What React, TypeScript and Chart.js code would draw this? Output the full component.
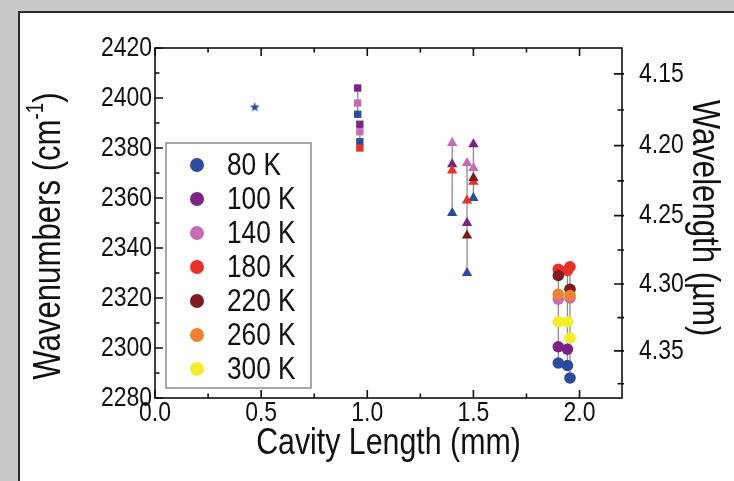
import { useEffect, useRef } from 'react';
import { Chart, registerables } from 'chart.js';

Chart.register(...registerables);

const FONT = '"Liberation Sans", Arial, Helvetica, sans-serif';
const SX = 0.82; // horizontal condensation of the lettering

const temperatures = ['80 K', '100 K', '140 K', '180 K', '220 K', '260 K', '300 K'];
const tempColors = ['#2c4a9e', '#7b2486', '#c66bb5', '#e63228', '#7d1b1e', '#ef8230', '#f2ee2e'];

// Wavenumber (cm-1) vs cavity length (mm) for each temperature
const k80 = [
  { x: 0.47, y: 2396.4 },
  { x: 0.955, y: 2393.5 },
  { x: 0.965, y: 2382.5 },
  { x: 1.4, y: 2354 },
  { x: 1.47, y: 2330 },
  { x: 1.5, y: 2360 },
  { x: 1.9, y: 2294 },
  { x: 1.943, y: 2293 },
  { x: 1.955, y: 2288 },
];
const k100 = [
  { x: 0.955, y: 2404 },
  { x: 0.965, y: 2389.5 },
  { x: 1.4, y: 2373.5 },
  { x: 1.47, y: 2350 },
  { x: 1.5, y: 2381.5 },
  { x: 1.9, y: 2300.5 },
  { x: 1.943, y: 2299.5 },
];
const k140 = [
  { x: 0.955, y: 2398 },
  { x: 0.965, y: 2386.5 },
  { x: 1.4, y: 2382 },
  { x: 1.47, y: 2374 },
  { x: 1.5, y: 2372 },
  { x: 1.9, y: 2319.5 },
  { x: 1.955, y: 2320 },
];
const k180 = [
  { x: 0.965, y: 2380 },
  { x: 1.4, y: 2371 },
  { x: 1.47, y: 2359 },
  { x: 1.5, y: 2366.5 },
  { x: 1.9, y: 2331.5 },
  { x: 1.943, y: 2331 },
  { x: 1.955, y: 2332.5 },
];
const k220 = [
  { x: 1.47, y: 2345 },
  { x: 1.5, y: 2368 },
  { x: 1.9, y: 2329 },
  { x: 1.955, y: 2323.5 },
];
const k260 = [
  { x: 1.9, y: 2321.5 },
  { x: 1.955, y: 2321 },
];
const k300 = [
  { x: 1.9, y: 2310.5 },
  { x: 1.943, y: 2310.5 },
  { x: 1.955, y: 2304 },
];
const seriesData = [k80, k100, k140, k180, k220, k260, k300];

const xMajorTicks = [0, 0.5, 1.0, 1.5, 2.0];
const xMinorTicks = [0.25, 0.75, 1.25, 1.75];
const yMajorTicks = [2280, 2300, 2320, 2340, 2360, 2380, 2400, 2420];
const yMinorTicks = [2290, 2310, 2330, 2350, 2370, 2390, 2410];
const wavelengthTicks = [4.15, 4.2, 4.25, 4.3, 4.35];
const wavelengthMinorTicks = [4.175, 4.225, 4.275, 4.325, 4.375];

const xTitle = 'Cavity Length (mm)';
const yTitle = 'Wavenumbers (cm';
const yTitleSup = '-1';
const y2Title = 'Wavelength (µm)';

function makeStar(color: string) {
  const c = document.createElement('canvas');
  c.width = 11;
  c.height = 11;
  const g = c.getContext('2d')!;
  g.fillStyle = color;
  g.beginPath();
  for (let i = 0; i < 10; i++) {
    const r = i % 2 === 0 ? 5.2 : 2.1;
    const a = -Math.PI / 2 + (i * Math.PI) / 5;
    const px = 5.5 + r * Math.cos(a);
    const py = 5.8 + r * Math.sin(a);
    if (i === 0) g.moveTo(px, py);
    else g.lineTo(px, py);
  }
  g.closePath();
  g.fill();
  return c;
}

function drawText(
  ctx: CanvasRenderingContext2D,
  text: string,
  x: number,
  y: number,
  size: number,
  align: CanvasTextAlign,
  rot = 0
) {
  ctx.save();
  ctx.translate(x, y);
  ctx.rotate(rot);
  ctx.scale(SX, 1);
  ctx.font = `${size}px ${FONT}`;
  ctx.textAlign = align;
  ctx.textBaseline = 'middle';
  ctx.fillStyle = '#111';
  ctx.fillText(text, 0, 0);
  ctx.restore();
}

export default function App() {
  const ref = useRef<HTMLCanvasElement>(null);

  useEffect(() => {
    if (!ref.current) return;
    const star = makeStar(tempColors[0]);

    const styleFor = (x: number) => {
      if (x < 0.7) return star;
      if (x < 1.2) return 'rect';
      if (x < 1.7) return 'triangle';
      return 'circle';
    };
    const radiusFor = (x: number) => {
      if (x < 1.2) return 5.2;
      if (x < 1.7) return 6;
      return 5.8;
    };

    // vertical connector lines per device (min..max of its points)
    const groups = new Map<number, number[]>();
    seriesData.forEach((s) =>
      s.forEach((p) => {
        if (!groups.has(p.x)) groups.set(p.x, []);
        groups.get(p.x)!.push(p.y);
      })
    );
    const lineSets: any[] = [];
    groups.forEach((ys, x) => {
      if (ys.length < 2) return;
      lineSets.push({
        type: 'line',
        label: '',
        data: [
          { x, y: Math.min(...ys) },
          { x, y: Math.max(...ys) },
        ],
        borderColor: '#8c8c8c',
        borderWidth: 1.3,
        pointRadius: 0,
        order: 100,
      });
    });

    const scatterSets = seriesData.map((s, i) => ({
      type: 'scatter',
      label: temperatures[i],
      data: s,
      backgroundColor: tempColors[i],
      borderColor: tempColors[i],
      borderWidth: 0,
      pointStyle: (ctx: any) => styleFor(ctx.raw ? ctx.raw.x : 2),
      pointRadius: (ctx: any) => radiusFor(ctx.raw ? ctx.raw.x : 2),
      order: 20 - i,
    }));

    const framePlugin = {
      id: 'frame',
      afterDraw(chart: any) {
        const { ctx, chartArea: a, scales } = chart;
        const xs = scales.x;
        const ys = scales.y;
        const y2 = scales.y2;
        ctx.save();
        ctx.strokeStyle = '#111';
        ctx.lineWidth = 1.6;
        ctx.strokeRect(a.left, a.top, a.right - a.left, a.bottom - a.top);
        ctx.beginPath();
        const tick = (list: number[], len: number) => {
          list.forEach((v) => {
            const px = xs.getPixelForValue(v);
            ctx.moveTo(px, a.bottom);
            ctx.lineTo(px, a.bottom - len);
            ctx.moveTo(px, a.top);
            ctx.lineTo(px, a.top + len);
          });
        };
        tick(xMajorTicks, 8);
        tick(xMinorTicks, 4.5);
        const ytick = (list: number[], len: number) => {
          list.forEach((v) => {
            const py = ys.getPixelForValue(v);
            ctx.moveTo(a.left, py);
            ctx.lineTo(a.left + len, py);
          });
        };
        ytick(yMajorTicks, 8);
        ytick(yMinorTicks, 4.5);
        const wtick = (list: number[], len: number) => {
          list.forEach((l) => {
            const w = 10000 / l;
            if (w < y2.min || w > y2.max) return;
            const py = y2.getPixelForValue(w);
            ctx.moveTo(a.right + 2, py);
            ctx.lineTo(a.right - len, py);
          });
        };
        wtick(wavelengthTicks, 8);
        wtick(wavelengthMinorTicks, 4.5);
        ctx.stroke();
        ctx.restore();

        // tick labels
        xMajorTicks.forEach((v) =>
          drawText(ctx, v.toFixed(1), xs.getPixelForValue(v), a.bottom + 15, 28, 'center')
        );
        yMajorTicks.forEach((v) =>
          drawText(ctx, String(v), a.left - 3, ys.getPixelForValue(v), 28, 'right')
        );
        wavelengthTicks.forEach((l) =>
          drawText(ctx, l.toFixed(2), a.right + 17, y2.getPixelForValue(10000 / l), 28, 'left')
        );

        // axis titles
        drawText(ctx, xTitle, (a.left + a.right) / 2, 444, 37, 'center');
        drawText(ctx, y2Title, 703, 218, 38, 'center', Math.PI / 2);

        ctx.save();
        ctx.translate(50, 236);
        ctx.rotate(-Math.PI / 2);
        ctx.scale(SX, 1);
        ctx.fillStyle = '#111';
        ctx.textBaseline = 'middle';
        ctx.textAlign = 'left';
        const big = `38px ${FONT}`;
        const small = `23px ${FONT}`;
        ctx.font = big;
        const w1 = ctx.measureText(yTitle).width;
        const w3 = ctx.measureText(')').width;
        ctx.font = small;
        const w2 = ctx.measureText(yTitleSup).width;
        let sx = -(w1 + w2 + w3) / 2;
        ctx.font = big;
        ctx.fillText(yTitle, sx, 0);
        sx += w1;
        ctx.font = small;
        ctx.fillText(yTitleSup, sx, -13);
        sx += w2;
        ctx.font = big;
        ctx.fillText(')', sx, 0);
        ctx.restore();

        // legend
        ctx.save();
        const lx = a.left + 11;
        const ly = a.top + 95;
        ctx.fillStyle = '#fff';
        ctx.fillRect(lx, ly, 145, 245);
        ctx.strokeStyle = '#6e6e6e';
        ctx.lineWidth = 1.2;
        ctx.strokeRect(lx, ly, 145, 245);
        temperatures.forEach((t, i) => {
          const cy = ly + 22 + i * 34;
          ctx.fillStyle = tempColors[i];
          ctx.beginPath();
          ctx.arc(lx + 31, cy, 7, 0, Math.PI * 2);
          ctx.fill();
          drawText(ctx, t, lx + 61, cy + 1, 32, 'left');
        });
        ctx.restore();
      },
    };

    const chart = new Chart(ref.current, {
      type: 'scatter',
      data: { datasets: [...lineSets, ...scatterSets] as any },
      options: {
        animation: false,
        responsive: false,
        devicePixelRatio: 1,
        layout: { padding: { top: 48, left: 0, right: 0, bottom: 0 } },
        plugins: { legend: { display: false }, tooltip: { enabled: false } },
        scales: {
          x: {
            type: 'linear',
            position: 'bottom',
            min: 0,
            max: 2.2,
            afterBuildTicks: (s: any) => {
              s.ticks = xMajorTicks.map((v) => ({ value: v }));
            },
            afterFit: (s: any) => {
              s.height = 83;
            },
            grid: { display: false, drawTicks: false },
            border: { display: false },
            ticks: { display: false },
          },
          y: {
            type: 'linear',
            position: 'left',
            min: 2280,
            max: 2420,
            afterBuildTicks: (s: any) => {
              s.ticks = yMajorTicks.map((v) => ({ value: v }));
            },
            afterFit: (s: any) => {
              s.width = 155;
            },
            grid: { display: false, drawTicks: false },
            border: { display: false },
            ticks: { display: false },
          },
          y2: {
            type: 'linear',
            position: 'right',
            min: 2280,
            max: 2420,
            afterBuildTicks: (s: any) => {
              s.ticks = wavelengthTicks.map((l) => ({ value: 10000 / l }));
            },
            afterFit: (s: any) => {
              s.width = 112;
            },
            grid: { display: false, drawTicks: false },
            border: { display: false },
            ticks: { display: false },
          },
        },
      } as any,
      plugins: [framePlugin],
    });
    return () => chart.destroy();
  }, []);

  return (
    <div
      style={{
        position: 'fixed',
        left: 0,
        top: 0,
        width: 734,
        height: 481,
        background: '#c9c9c9',
        overflow: 'hidden',
      }}
    >
      <div
        style={{
          position: 'absolute',
          left: 18,
          top: 11,
          width: 800,
          height: 600,
          background: '#fff',
          border: '2px solid #2b2b2b',
          boxSizing: 'border-box',
        }}
      />
      <canvas
        ref={ref}
        width={734}
        height={481}
        style={{ position: 'absolute', left: 0, top: 0, width: 734, height: 481 }}
      />
    </div>
  );
}
